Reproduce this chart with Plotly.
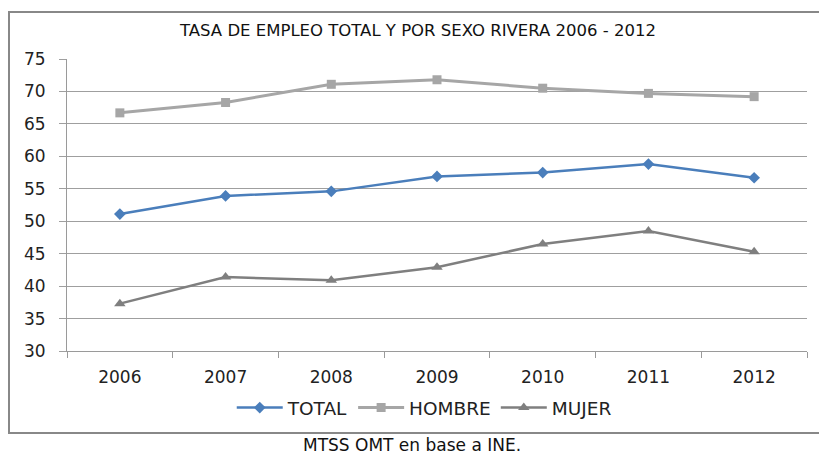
import plotly.graph_objects as go

years = ["2006", "2007", "2008", "2009", "2010", "2011", "2012"]
total = [51.1, 53.9, 54.6, 56.9, 57.5, 58.8, 56.7]
hombre = [66.7, 68.3, 71.1, 71.8, 70.5, 69.7, 69.2]
mujer = [37.3, 41.4, 40.9, 42.9, 46.5, 48.5, 45.3]

W, H = 819, 454
FONT = "DejaVu Sans"

fig = go.Figure()
fig.add_trace(go.Scatter(x=years, y=total, name="TOTAL", mode="lines+markers",
                         line=dict(color="#4A7EBB", width=2.5),
                         marker=dict(symbol="diamond", size=9, color="#4A7EBB")))
fig.add_trace(go.Scatter(x=years, y=hombre, name="HOMBRE", mode="lines+markers",
                         line=dict(color="#A6A6A6", width=3),
                         marker=dict(symbol="square", size=9, color="#A6A6A6")))
fig.add_trace(go.Scatter(x=years, y=mujer, name="MUJER", mode="lines+markers",
                         line=dict(color="#7F7F7F", width=2.5),
                         marker=dict(symbol="triangle-up", size=10, color="#7F7F7F")))

fig.update_layout(
    width=W, height=H, autosize=False,
    margin=dict(l=0, r=0, t=0, b=0, pad=0, autoexpand=False),
    paper_bgcolor="white", plot_bgcolor="white",
    font=dict(family=FONT, color="#222222", size=15),
    showlegend=True,
    legend=dict(orientation="h", x=0.518, xanchor="center", y=1 - 408 / H, yanchor="middle",
                font=dict(size=18.5, color="#222222"), itemwidth=46, tracegroupgap=0,
                bgcolor="rgba(0,0,0,0)"),
    xaxis=dict(domain=[67 / W, 807 / W], type="category", range=[-0.5, 6.5], automargin=False,
               showgrid=False, showline=True, linecolor="#9a9a9a", linewidth=1,
               ticks="outside", tickson="boundaries", ticklen=6, tickcolor="#9a9a9a",
               tickfont=dict(size=17, color="#222222"), ticklabelstandoff=11),
    yaxis=dict(domain=[1 - 351 / H, 1 - 59 / H], range=[30, 75], dtick=5, automargin=False,
               showgrid=True, gridcolor="#9f9f9f", gridwidth=1,
               showline=True, linecolor="#9a9a9a", linewidth=1,
               ticks="outside", ticklen=7, tickcolor="#9f9f9f",
               tickfont=dict(size=17, color="#222222"), ticklabelstandoff=10,
               zeroline=False),
    shapes=[dict(type="rect", xref="paper", yref="paper",
                 x0=9 / W, x1=830 / W, y0=1 - 433 / H, y1=1 - 12 / H,
                 line=dict(color="#888888", width=2), fillcolor="rgba(0,0,0,0)", layer="below")],
    annotations=[
        dict(text="TASA DE EMPLEO TOTAL Y POR SEXO RIVERA 2006 - 2012", xref="paper", yref="paper",
             x=418 / W, y=1 - 31 / H, xanchor="center", yanchor="middle", showarrow=False,
             font=dict(size=16.5, color="#111111")),
        dict(text="MTSS OMT en base a INE.", xref="paper", yref="paper",
             x=412 / W, y=1 - 445 / H, xanchor="center", yanchor="middle", showarrow=False,
             font=dict(size=17, color="#111111")),
    ],
)

fig.write_html("out.html", config={"displayModeBar": False, "responsive": False},
               post_script="document.body.style.margin='0';document.body.style.overflow='hidden';")
